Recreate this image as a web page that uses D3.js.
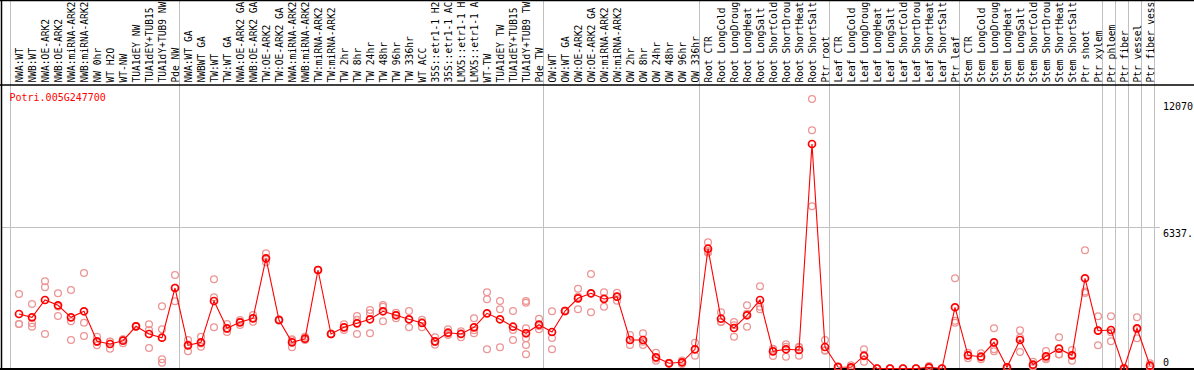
<!DOCTYPE html>
<html>
<head>
<meta charset="utf-8">
<script src="https://cdn.jsdelivr.net/npm/d3@7"></script>
<style>
  body { margin: 0; background: #fff; overflow: hidden; }
  text { font-family: "DejaVu Sans Mono", monospace; font-size: 10px; }
  text.slabel { font-size: 9.6px; }
</style>
</head>
<body>
<div id="chart"></div>
<script>
// Sample names (one column each)
var samples = [
  "NWA:WT", "NWB:WT", "NWA:OE-ARK2", "NWB:OE-ARK2", "NWA:miRNA-ARK2", "NWB:miRNA-ARK2",
  "NW 0hr", "WT H2O", "WT-NW", "TUA1dEY NW", "TUA1dEY+TUB15 NW", "TUA1dY+TUB9 NW", "Pde NW",
  "NWA:WT GA", "NWBWT GA", "TW:WT", "TW:WT GA", "NWA:OE-ARK2 GA", "NWB:OE-ARK2 GA",
  "TW:OE-ARK2", "TW:OE-ARK2 GA", "NWA:miRNA-ARK2 GA", "NWB:miRNA-ARK2 GA", "TW:miRNA-ARK2",
  "TW:miRNA-ARK2 GA", "TW 2hr", "TW 8hr", "TW 24hr", "TW 48hr", "TW 96hr", "TW 336hr", "WT ACC",
  "35S::etr1-1 H2O", "35S::etr1-1 ACC", "LMX5::etr1-1 H2O", "LMX5::etr1-1 ACC", "WT-TW",
  "TUA1dEY TW", "TUA1dEY+TUB15 TW", "TUA1dY+TUB9 TW", "Pde TW",
  "OW:WT", "OW:WT GA", "OW:OE-ARK2", "OW:OE-ARK2 GA", "OW:miRNA-ARK2", "OW:miRNA-ARK2 GA",
  "OW 2hr", "OW 8hr", "OW 24hr", "OW 48hr", "OW 96hr", "OW 336hr",
  "Root CTR", "Root LongCold", "Root LongDrought", "Root LongHeat", "Root LongSalt",
  "Root ShortCold", "Root ShortDrought", "Root ShortHeat", "Root ShortSalt", "Ptr root",
  "Leaf CTR", "Leaf LongCold", "Leaf LongDrought", "Leaf LongHeat", "Leaf LongSalt",
  "Leaf ShortCold", "Leaf ShortDrought", "Leaf ShortHeat", "Leaf ShortSalt", "Ptr leaf",
  "Stem CTR", "Stem LongCold", "Stem LongDrought", "Stem LongHeat", "Stem LongSalt",
  "Stem ShortCold", "Stem ShortDrought", "Stem ShortHeat", "Stem ShortSalt", "Ptr shoot",
  "Ptr xylem", "Ptr phloem", "Ptr fiber", "Ptr vessel", "Ptr fiber vessel"
];

// Mean expression per sample
var means = [
  2441, 2293, 3068, 2831, 2293, 2562, 1218, 1097, 1245, 1890, 1545, 1379, 3605,
  1039, 1173, 3023, 1800, 2069, 2248, 4936, 2172, 1173, 1335, 4412, 1545, 1845, 2024,
  2204, 2562, 2383, 2204, 2038, 1218, 1603, 1545, 1845, 2472, 2204, 1872, 1577, 1962,
  1635, 2575, 3144, 3368, 3113, 3216, 1276, 1276, 502, 233, 278, 860,
  5365, 2230, 1814, 2383, 3068, 770, 860, 829, 10055, 963,
  70, 54, 573, 0, 0, 0, 0, 54, 0, 2741,
  591, 528, 1173, 54, 1276, 170, 546, 887, 591, 4040, 1693,
  1724, 0, 1800, 125
];

// Individual replicates per sample
var replicates = [
  [3337, 1993, 1993], [2889, 2024, 1872], [3906, 3637, 1545], [3368, 2351, 2774],
  [3516, 2114, 1276], [4277, 2051, 1456], [1424, 1039, 1191], [1200, 887, 1204],
  [1308, 1129, 1298], [1900, 1880, 1890], [1980, 1724, 918], [2786, 1756, 412, 260],
  [4188, 3010, 3617], [1276, 770, 1071], [1424, 976, 1119], [3995, 3189, 1845],
  [1993, 1635, 1772], [2172, 1948, 2087], [2396, 2096, 2252], [5160, 4757, 4891],
  [2204, 2150, 2162], [1308, 950, 1261], [1424, 1276, 1305], [4412, 4420, 4404],
  [1545, 1560, 1530], [1980, 1724, 1831], [2351, 1545, 2176], [2620, 2472, 1577],
  [2844, 2768, 2114], [2499, 2248, 2402], [2575, 1845, 2192], [2083, 1845, 2186],
  [1397, 1066, 1191], [1756, 1500, 1553], [1666, 1397, 1572], [2248, 1577, 1710],
  [3413, 3099, 860], [3023, 2651, 950], [2575, 1724, 1276],
  [3023, 2947, 1800, 1353, 1053, 636], [2230, 1756, 1900], [2562, 1366, 860],
  [2575, 2600, 2550], [3574, 2651, 3207], [4232, 2517, 3355], [3413, 2768, 3158],
  [3395, 3037, 3216], [1500, 1053, 1275], [1577, 1053, 1198], [708, 349, 449],
  [233, 250, 216], [278, 202, 354], [1156, 573, 851],
  [5652, 5187, 5256], [2517, 2096, 2077], [2083, 1424, 1935], [2831, 1872, 2446],
  [3682, 2768, 2651], [887, 560, 863], [1084, 528, 968], [976, 573, 938],
  [12070, 10669, 7265], [1276, 797, 816],
  [81, 60, 70], [0, 143, 20], [860, 305, 554], [0, 0, 0], [0, 0, 0], [0, 0, 0],
  [0, 0, 0], [112, 30, 20], [0, 0, 0], [4040, 2141, 2051],
  [708, 457, 608], [681, 412, 491], [1800, 860, 770], [54, 80, 30], [1711, 739, 1378],
  [305, 120, 85], [784, 412, 442], [1397, 636, 628], [829, 349, 595], [5294, 3381, 3445],
  [2338, 1039, 1702], [2338, 1621, 1218], [0, 30, 0], [2293, 1353, 1754], [233, 54, 88]
];

// Columns after which a group separator is drawn
var groupBreaks = [0, 13, 41, 53, 63, 73, 84, 85, 86, 87, 88];
var geneName = "Potri.005G247700";
var yMax = 12674.6;
var yTicks = [
  {value: 12070, label: "12070", dy: 11},
  {value: 6337.3, label: "6337.", dy: 10},
  {value: 0, label: "0", dy: -3}
];

var W = 1194, H = 370;
var svg = d3.select("#chart").append("svg")
  .attr("width", W)
  .attr("height", H);

// Column scale: 13px per sample starting at x = 10
var x = d3.scaleLinear().domain([0, samples.length]).range([10, 10 + 13 * samples.length]);
function cx(i) { return x(i) + 9; }

var y = d3.scaleLinear().domain([0, yMax]).range([368.5, 85.5]);

// Vertical group lines
svg.selectAll(".vline").data(groupBreaks).enter().append("line")
  .attr("x1", d => x(d) + 0.5).attr("x2", d => x(d) + 0.5)
  .attr("y1", 0).attr("y2", H)
  .attr("stroke", "#c0c0c0").attr("stroke-width", 1);

// Middle horizontal line
svg.append("line")
  .attr("x1", 1).attr("x2", 1160)
  .attr("y1", Math.round(y(yMax / 2)) + 0.5).attr("y2", Math.round(y(yMax / 2)) + 0.5)
  .attr("stroke", "#c0c0c0").attr("stroke-width", 1);

// Frame
svg.append("line").attr("x1", 0).attr("x2", W).attr("y1", 0.5).attr("y2", 0.5)
  .attr("stroke", "#000").attr("stroke-width", 1.5);
svg.append("line").attr("x1", 1.5).attr("x2", 1.5).attr("y1", 0).attr("y2", H)
  .attr("stroke", "#000").attr("stroke-width", 1.5);
svg.append("line").attr("x1", 0).attr("x2", W).attr("y1", 85).attr("y2", 85)
  .attr("stroke", "#000").attr("stroke-width", 1.5);
svg.append("line").attr("x1", 0).attr("x2", W).attr("y1", 369).attr("y2", 369)
  .attr("stroke", "#000").attr("stroke-width", 2);

// Rotated sample labels (truncated to 14 characters)
svg.selectAll(".slabel").data(samples).enter().append("text")
  .attr("class", "slabel")
  .attr("transform", (d, i) => "translate(" + (cx(i) + 3.5) + ",82.5) rotate(-90)")
  .attr("fill", "#000")
  .text(d => d.slice(0, 14));

// Gene name
svg.append("text")
  .attr("x", 9.5).attr("y", 100.5)
  .attr("fill", "#ff0000")
  .text(geneName);

// Y labels on the right
svg.selectAll(".ylabel").data(yTicks).enter().append("text")
  .attr("x", 1163)
  .attr("y", d => y(d.value) + d.dy)
  .attr("fill", "#000")
  .text(d => d.label);

// Replicate points
var repData = [];
replicates.forEach(function (reps, i) {
  reps.forEach(function (v) { repData.push({i: i, v: v}); });
});
svg.selectAll(".rep").data(repData).enter().append("circle")
  .attr("cx", d => cx(d.i))
  .attr("cy", d => y(d.v))
  .attr("r", 3.4)
  .attr("fill", "none")
  .attr("stroke", "rgb(236,150,150)")
  .attr("stroke-width", 1.3);

// Mean line
var line = d3.line()
  .x((d, i) => cx(i))
  .y(d => y(d));
svg.append("path")
  .datum(means)
  .attr("d", line)
  .attr("fill", "none")
  .attr("stroke", "#ff0000")
  .attr("stroke-width", 1.1);

// Mean points
svg.selectAll(".mean").data(means).enter().append("circle")
  .attr("cx", (d, i) => cx(i))
  .attr("cy", d => y(d))
  .attr("r", 3.5)
  .attr("fill", "none")
  .attr("stroke", "#ff0000")
  .attr("stroke-width", 1.7);
</script>
</body>
</html>
